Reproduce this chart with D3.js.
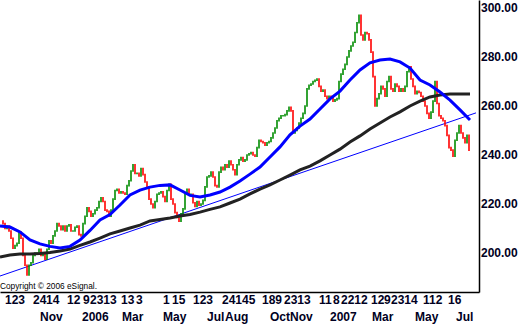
<!DOCTYPE html>
<html>
<head>
<meta charset="utf-8">
<script src="https://cdn.jsdelivr.net/npm/d3@7"></script>
<style>
  body { margin: 0; background: #fff; }
  svg { display: block; }
</style>
</head>
<body>
<script>
// closes, one value every 2 trading days starting at day 1
const closeStart = 1, closeStep = 2;
const closes = [
  213, 212, 210, 211, 209, 206, 202, 203, 204, 208.5,
  206, 199, 195, 191, 195, 196, 199, 200, 200, 201.5,
  199, 199.5, 197.5, 201.5, 205, 204, 207, 209, 212, 211,
  209.5, 211, 209, 211, 211.5, 209, 209, 210.5, 211, 207.5,
  207, 212, 215, 218.5, 217, 215, 216, 217.5, 218.5, 221,
  222.5, 221, 217.5, 217, 215, 217.5, 222, 225.5, 226, 224.5,
  225, 224.5, 224, 227.5, 229.5, 233.5, 236, 232.5, 232.5, 231.5,
  234.5, 232, 229, 227, 222, 220, 218.5, 221, 224, 224.5,
  225, 223, 221, 225.5, 228, 222, 220, 216.5, 214.5, 213,
  216, 218, 224, 226, 224, 224, 220.5, 219, 221, 219.5,
  220, 221.5, 227, 231, 231.5, 233, 231, 227.5, 227, 233,
  235, 234, 236, 235, 237.5, 236, 234, 232, 236, 238,
  239,
  237.5, 238, 240, 240.5, 241, 240, 239.5, 243, 246, 245.5,
  245, 244, 245, 245.5, 247, 249, 251, 254, 255, 256,
  256, 256.5, 258, 259.5, 258, 249, 250, 251, 253, 255,
  257, 260, 267, 268.5, 269, 270, 270.5, 271, 268, 266,
  266.5, 264, 263, 264, 263.5, 262, 262.5, 263, 270, 273,
  275, 277, 280, 282.5, 284.5, 286, 290, 294, 297, 289,
  287, 290, 289.5, 287, 282, 272, 260, 263, 265, 268,
  267, 264, 270, 272, 267, 266, 269, 268, 266, 267,
  266, 268, 274, 276, 271, 268, 265, 266, 265.5, 264,
  262, 260, 257, 255, 257.5, 262, 270, 261, 256, 255,
  254, 252, 248, 243, 242, 239.5, 246, 249, 252, 249,
  247, 245, 248, 242
];

// moving averages, one value every 10 trading days from day 0
const maStep = 10;
const ma50 = [
  211.0, 210.6, 208.6, 205.3, 203.7, 202.7, 202.0, 202.7, 205.3, 209.2,
  213.5, 215.7, 219.6, 223.7, 225.7, 226.9, 227.6, 227.8, 225.7, 223.5,
  222.9, 223.7, 224.9, 226.9, 229.4, 232.2, 235.1, 239.2, 243.3, 248.2,
  251.8, 254.7, 258.8, 262.9, 266.1, 270.6, 274.7, 277.6, 278.8, 279.2,
  278.0, 275.5, 270.6, 268.6, 265.7, 262.4, 258.4, 254.3
];
const ma200 = [
  198.4, 199.2, 199.6, 199.6, 199.8, 200.2, 200.8, 201.6, 203.1, 204.5,
  206.1, 207.8, 209.0, 210.2, 211.4, 213.1, 213.7, 214.3, 215.1, 215.7,
  216.7, 217.8, 218.8, 220.4, 222.0, 224.1, 226.1, 227.8, 229.8, 231.8,
  233.9, 235.5, 237.6, 240.0, 242.4, 245.3, 247.8, 250.6, 253.1, 255.5,
  257.6, 260.0, 262.0, 263.7, 264.5, 264.9, 264.9, 264.9
];

// trend line end points
const trendDays = [0, 476];
const trendValues = [190.6, 257.2];

const yTicks = [200, 220, 240, 260, 280, 300];

// bottom labels: [text, trading day]
const dayLabels = [
  ["123", 5], ["24", 33], ["14", 46], ["12", 67], ["9", 83], ["2313", 90],
  ["13", 121], ["3", 136], ["1", 163], ["15", 172], ["123", 193], ["24145", 222],
  ["189", 262], ["2313", 284], ["11", 319], ["8", 333], ["2212", 341], ["12", 371],
  ["9", 384], ["2314", 391], ["112", 423], ["16", 448]
];
const monthLabels = [
  ["Nov", 40], ["2006", 82], ["Mar", 122], ["May", 163], ["Jul", 207], ["Aug", 225],
  ["Oct", 270], ["Nov", 290], ["2007", 330], ["Mar", 372], ["May", 415], ["Jul", 456]
];

const width = 523, height = 324;
const plotW = 479, plotH = 292;

const svg = d3.select("body").append("svg")
  .attr("width", width)
  .attr("height", height);

svg.append("rect").attr("width", width).attr("height", height).attr("fill", "#fff");

const x = d3.scaleLinear().domain([0, plotW]).range([0, plotW]);
const y = d3.scaleLinear().domain([184.08, 303.27]).range([plotH, 0]);

// trend line
svg.append("line")
  .attr("x1", x(trendDays[0])).attr("y1", y(trendValues[0]))
  .attr("x2", x(trendDays[1])).attr("y2", y(trendValues[1]))
  .attr("stroke", "#0000ff")
  .attr("stroke-width", 1);

// price bars, previous close to close
const bars = closes.slice(1).map((c, i) => ({
  day: closeStart + (i + 1) * closeStep,
  prev: closes[i],
  close: c
}));

svg.append("g").selectAll("line")
  .data(bars)
  .enter()
  .append("line")
  .attr("x1", d => x(d.day))
  .attr("x2", d => x(d.day))
  .attr("y1", d => y(d.prev))
  .attr("y2", d => y(d.close))
  .attr("stroke", d => d.close >= d.prev ? "#008c00" : "#ff0000")
  .attr("stroke-width", 1.6)
  .attr("stroke-linecap", "square");

// moving averages
const maLine = d3.line()
  .x((d, i) => x(i * maStep))
  .y(d => y(d));

svg.append("path")
  .datum(ma200)
  .attr("d", maLine)
  .attr("fill", "none")
  .attr("stroke", "#222")
  .attr("stroke-width", 3);

svg.append("path")
  .datum(ma50)
  .attr("d", maLine)
  .attr("fill", "none")
  .attr("stroke", "#0000ff")
  .attr("stroke-width", 3);

const labelFont = sel => sel
  .attr("fill", "#000022")
  .style("font-family", "'Liberation Sans', Arial, sans-serif")
  .style("font-size", "12px")
  .style("font-weight", "bold");

// y axis on the right
const yAxis = svg.append("g")
  .attr("transform", `translate(${plotW},0)`)
  .call(d3.axisRight(y).tickValues(yTicks).tickFormat(d3.format(".2f")).tickSize(0).tickSizeOuter(0).tickPadding(2));
yAxis.select(".domain").attr("stroke", "#000").attr("stroke-width", 1.5);
yAxis.selectAll("text").call(labelFont);

// x axis, two rows of labels
function labelRow(labels, offset) {
  const g = svg.append("g")
    .attr("transform", `translate(0,${plotH + offset})`)
    .call(d3.axisBottom(x)
      .tickValues(labels.map((d, i) => i))
      .tickSize(0).tickSizeOuter(0).tickPadding(0));
  g.selectAll(".tick")
    .attr("transform", d => `translate(${x(labels[d][1])},0)`);
  g.selectAll(".tick text")
    .text(d => labels[d][0])
    .attr("text-anchor", "start")
    .attr("dy", "0.9em")
    .attr("y", 1)
    .call(labelFont);
  return g;
}

const dayAxis = labelRow(dayLabels, 0);
dayAxis.select(".domain").attr("stroke", "#000").attr("stroke-width", 1.5);
const monthAxis = labelRow(monthLabels, 17);
monthAxis.select(".domain").remove();

// copyright note
svg.append("text")
  .attr("x", 0)
  .attr("y", 289)
  .attr("fill", "#000")
  .style("font-family", "'Liberation Sans', Arial, sans-serif")
  .style("font-size", "8.3px")
  .text("Copyright \u00a9 2006 eSignal.");
</script>
</body>
</html>
